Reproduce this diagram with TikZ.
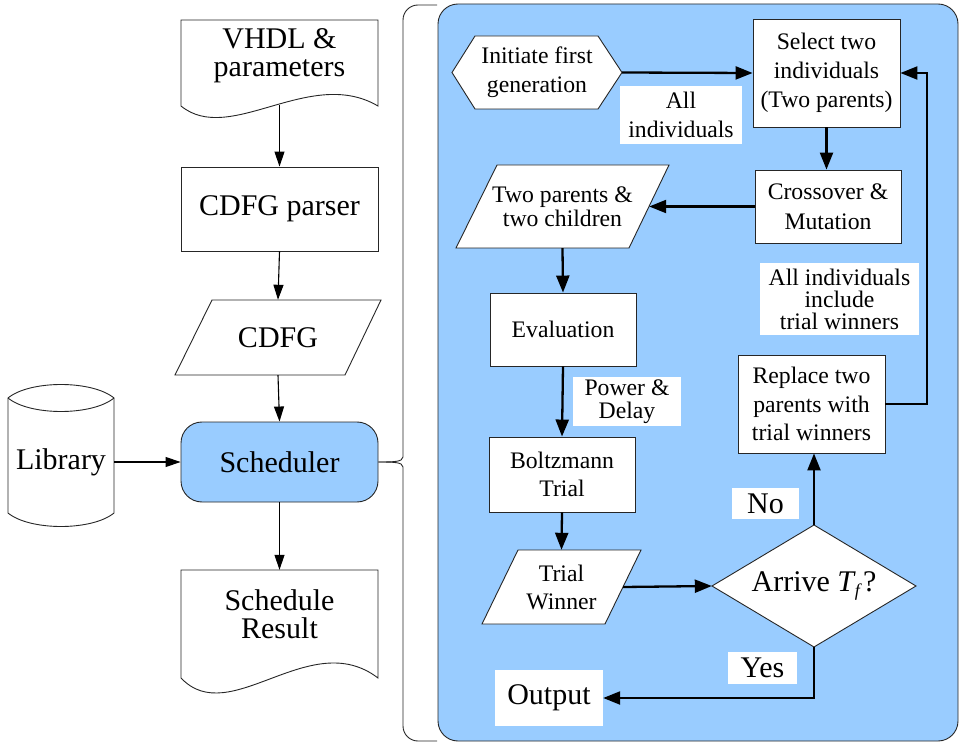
\documentclass[tikz,border=0pt]{standalone}
\usepackage{fontspec}
\setmainfont{Liberation Serif}
\usetikzlibrary{arrows.meta,calc}
\definecolor{lblue}{HTML}{99CCFF}
\begin{document}
\begin{tikzpicture}[x=1pt,y=-1pt,
  ln/.style={draw=black!85,line width=0.9pt},
  boxs/.style={ln,fill=white,inner sep=0pt,align=center},
  tx/.style={inner sep=0pt,align=center},
  big/.style={font=\fontsize{30}{28.2}\selectfont},
  sm/.style={font=\fontsize{23.7}{28.5}\selectfont},
  arl/.style={line width=1.1pt,-{Triangle[length=15pt,width=10pt]}},
  ari/.style={line width=2.3pt,-{Triangle[length=17pt,width=13pt]}},
  lbl/.style={fill=white,inner sep=0pt,align=center}]
\useasboundingbox (0,0) rectangle (959,743);

% ---------- left column ----------
\draw[ln,fill=white] (181,20) -- (378,20) -- (378,106) .. controls (310,66) and (230,146) .. (181,106) -- cycle;
\node[tx,big] (vhdl) at (279.5,56) {VHDL \&\\parameters};
\coordinate (vhdlb) at (279.5,105);

\node[boxs,big,minimum width=197,minimum height=84] (parser) at (279.5,209) {CDFG parser};

\draw[ln,fill=white] (175,375) -- (212,300) -- (381,300) -- (345,375) -- cycle;
\node[tx,big,minimum width=170,minimum height=75] (cdfg) at (278,337.5) {CDFG};

\node[boxs,big,fill=lblue,rounded corners=21pt,minimum width=197,minimum height=80] (sched) at (279.5,462) {Scheduler};

\draw[ln,fill=white] (8,398) .. controls (30,380) and (92,380) .. (114,398) -- (114,513) .. controls (92,531) and (30,531) .. (8,513) -- cycle;
\draw[ln] (8,398) .. controls (30,416) and (92,416) .. (114,398);
\node[tx,big,minimum width=106,minimum height=100] (lib) at (61,462) {Library};

\draw[ln,fill=white] (181,570) -- (378,570) -- (378,678) .. controls (310,626) and (230,730) .. (181,678) -- cycle;
\node[tx,big,minimum width=197,minimum height=88] (sr) at (279.5,614) {Schedule\\Result};

\draw[arl] (vhdlb) -- (parser.north);
\draw[arl] (parser.south) -- (cdfg.north);
\draw[arl] (cdfg.south) -- (sched.north);
\draw[arl] (lib.east) -- (sched.west);
\draw[arl] (sched.south) -- (sr.north);

% ---------- brace ----------
\draw[ln,rounded corners=15pt] (sched.east) .. controls +(14,0) and +(0,20) .. (403,442) -- (403,5) -- (437,5);
\draw[ln,rounded corners=15pt] (sched.east) .. controls +(14,0) and +(0,-20) .. (403,482) -- (403,741) -- (437,741);

% ---------- right panel ----------
\draw[ln,fill=lblue,rounded corners=20pt] (438,4) rectangle (958,741);

\draw[ln,fill=white] (452,72.5) -- (475,36) -- (598,36) -- (622,72.5) -- (598,109) -- (475,109) -- cycle;
\node[tx,font=\fontsize{23.7}{29}\selectfont,minimum width=170,minimum height=73] (init) at (537,72.5) {Initiate first\\generation};

\node[boxs,font=\fontsize{23.7}{29}\selectfont,minimum width=147,minimum height=108] (sel) at (826.5,73) {Select two\\individuals\\(Two parents)};

\node[boxs,font=\fontsize{23.7}{30}\selectfont,minimum width=146,minimum height=73] (cross) at (828,206.5) {Crossover \&\\Mutation};

\draw[ln,fill=white] (456,248) -- (497,165) -- (669,165) -- (629,248) -- cycle;
\node[tx,font=\fontsize{23.7}{24}\selectfont,minimum width=173,minimum height=83] (tp) at (562.5,206.5) {Two parents \&\\two children};

\node[boxs,sm,minimum width=146,minimum height=73] (eval) at (563,329.5) {Evaluation};

\node[boxs,font=\fontsize{23.7}{28}\selectfont,minimum width=146,minimum height=75] (boltz) at (562,474.5) {Boltzmann\\Trial};

\draw[ln,fill=white] (482,624) -- (518,550) -- (641,550) -- (605,624) -- cycle;
\node[tx,font=\fontsize{23.7}{28}\selectfont,minimum width=123,minimum height=74] (tw) at (561.5,587) {Trial\\Winner};

\draw[ln,fill=white] (712,586) -- (814,525) -- (916,586) -- (814,647) -- cycle;
\node[tx,big,minimum width=204,minimum height=122] (dec) at (814,586) {Arrive \textit{T}\kern-1pt\raisebox{-5pt}{\fontsize{18}{18}\selectfont\textit{f}}\kern1pt?};

\node[boxs,sm,minimum width=147,minimum height=98] (rep) at (811.5,404) {Replace two\\parents with\\trial winners};

\node[lbl,big,minimum width=108,minimum height=56] (out) at (549,698) {Output};

% labels
\node[lbl,font=\fontsize{23.7}{29}\selectfont,minimum width=122,minimum height=58] (l1) at (681,115) {All\\individuals};
\node[lbl,font=\fontsize{23.7}{23}\selectfont,minimum width=108,minimum height=49] (l2) at (627,401.5) {Power \&\\Delay};
\node[lbl,font=\fontsize{23.7}{22}\selectfont,minimum width=159,minimum height=72] (l3) at (839.5,299) {All individuals\\include\\trial winners};
\node[lbl,big,minimum width=67,minimum height=31] (l4) at (765.5,503.5) {No};
\node[lbl,big,minimum width=69,minimum height=32] (l5) at (762.5,668) {Yes};

% connectors
\draw[ari] (init.east) -- (sel.west);
\draw[ari] (sel.south) -- (sel.south |- cross.north);
\draw[ari] (cross.west) -- (tp.east);
\draw[ari] (tp.south) -- (eval.north);
\draw[ari] (eval.south) -- (boltz.north);
\draw[ari] (boltz.south) -- (tw.north);
\draw[ari] (tw.east) -- (dec.west);
\draw[ari] (dec.north) -- (dec.north |- rep.south);
\draw[ari] (dec.south) |- (out.east);
\coordinate (loop) at (927,73);
\draw[ari] (rep.east) -| (loop) -- (sel.east);
\end{tikzpicture}
\end{document}
